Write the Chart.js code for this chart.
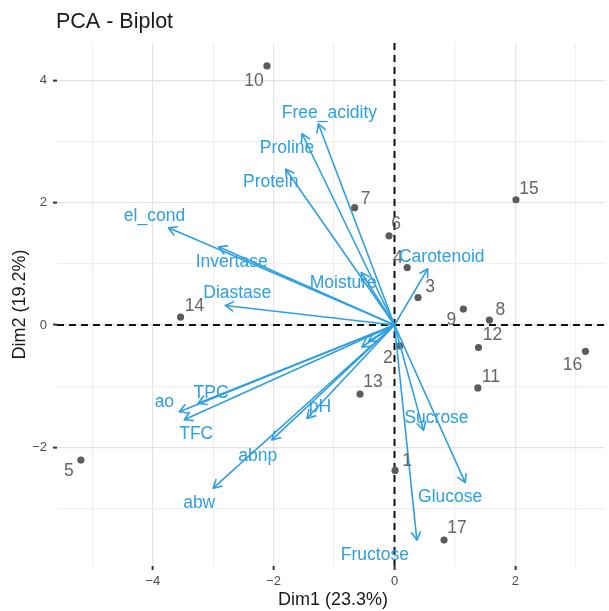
<!DOCTYPE html>
<html>
<head>
<meta charset="utf-8">
<title>PCA - Biplot</title>
<script src="https://cdn.jsdelivr.net/npm/chart.js@4.4.1/dist/chart.umd.min.js"></script>
<style>
  html, body { margin: 0; padding: 0; background: #ffffff; }
  #wrap { position: relative; width: 609px; height: 611px; }
</style>
</head>
<body>
<div id="wrap"><canvas id="biplot" width="609" height="611"></canvas></div>
<script>
// Individuals (scores on Dim1 / Dim2)
const indNames = ['1','2','3','4','5','6','7','8','9','10','11','12','13','14','15','16','17'];
const indDim1 = [0.01, 0.09, 0.39, 0.21, -5.19, -0.09, -0.66, 1.57, 1.14, -2.11, 1.38, 1.39, -0.57, -3.54, 2.01, 3.16, 0.82];
const indDim2 = [-2.38, -0.34, 0.45, 0.94, -2.21, 1.46, 1.92, 0.08, 0.26, 4.24, -1.03, -0.37, -1.13, 0.13, 2.05, -0.43, -3.52];

// Variables (loadings, scaled onto the score axes)
const varNames = ['el_cond', 'Invertase', 'Diastase', 'Free_acidity', 'Proline', 'Protein', 'Moisture', 'Carotenoid',
                  'ao', 'TPC', 'TFC', 'pH', 'abnp', 'abw', 'Sucrose', 'Glucose', 'Fructose', '', ''];
const varDim1 = [-3.74, -2.91, -2.80, -1.26, -1.53, -1.80, -0.55, 0.55, -3.56, -3.25, -3.48, -1.45, -2.03, -3.00, 0.48, 1.17, 0.37, -0.54, -0.43];
const varDim2 = [1.59, 1.28, 0.32, 3.29, 3.13, 2.55, 0.86, 0.92, -1.42, -1.28, -1.55, -1.53, -1.88, -2.67, -1.72, -2.58, -3.52, -0.36, -0.27];

// Axis ticks
const xTickLabels = [-4, -2, 0, 2];
const yTickLabels = [-2, 0, 2, 4];

// Text placement relative to each mark (pixels)
const indLabelOffsets = [[12,-9],[-12,12],[12,-10],[-9,-9],[-12,11],[7,-12],[11,-9],[11,-10],[-12,11],[-13,15],
                         [13,-11],[14,-12],[13,-12],[14,-11],[13,-11],[-13,14],[13,-12]];
const varLabelOffsets = [[-14,-12],[13,15],[12,-12],[11,-11],[-15,14],[-15,13],[-18,11],[14,-12],
                         [-15,-10],[13,-10],[12,14],[13,-11],[-14,16],[-14,15],[13,-12],[-15,15],[-42,15],[0,0],[0,0]];

const FONT = "'Liberation Sans', Arial, Helvetica, sans-serif";
const VAR_COLOR = '#2E9FDF';
const IND_COLOR = '#5c5c5c';
const IND_TEXT = '#666666';

const isMajor = v => Math.abs(v % 2) < 1e-9;

const datasets = [];
datasets.push({
  label: 'individuals',
  type: 'scatter',
  data: indDim1.map((x, i) => ({ x, y: indDim2[i] })),
  pointRadius: 3.6,
  pointHoverRadius: 3.6,
  backgroundColor: IND_COLOR,
  borderWidth: 0,
  order: 2
});
varDim1.forEach((x, i) => {
  datasets.push({
    label: varNames[i],
    type: 'line',
    data: [{ x: 0, y: 0 }, { x, y: varDim2[i] }],
    borderColor: VAR_COLOR,
    borderWidth: 1.6,
    pointRadius: 0,
    fill: false,
    tension: 0,
    order: 1
  });
});

const overlay = {
  id: 'biplotOverlay',
  beforeDatasetsDraw(chart) {
    const { ctx, chartArea: a, scales: { x, y } } = chart;
    const x0 = x.getPixelForValue(0), y0 = y.getPixelForValue(0);
    ctx.save();
    ctx.strokeStyle = '#111111';
    ctx.lineWidth = 2;
    ctx.setLineDash([7, 5]);
    ctx.beginPath();
    ctx.moveTo(a.left, y0); ctx.lineTo(chart.width, y0);
    ctx.moveTo(x0, a.top); ctx.lineTo(x0, a.bottom);
    ctx.stroke();
    ctx.restore();
  },
  afterDatasetsDraw(chart) {
    const { ctx, scales: { x, y } } = chart;
    const ox = x.getPixelForValue(0), oy = y.getPixelForValue(0);
    ctx.save();
    // arrow heads
    ctx.strokeStyle = VAR_COLOR;
    ctx.lineWidth = 1.6;
    ctx.lineCap = 'round';
    ctx.lineJoin = 'round';
    const L = 9, half = Math.PI / 6;
    varDim1.forEach((vx, i) => {
      const tx = x.getPixelForValue(vx), ty = y.getPixelForValue(varDim2[i]);
      const ang = Math.atan2(ty - oy, tx - ox);
      ctx.beginPath();
      ctx.moveTo(tx + L * Math.cos(ang + Math.PI - half), ty + L * Math.sin(ang + Math.PI - half));
      ctx.lineTo(tx, ty);
      ctx.lineTo(tx + L * Math.cos(ang + Math.PI + half), ty + L * Math.sin(ang + Math.PI + half));
      ctx.stroke();
    });
    // text
    ctx.textAlign = 'center';
    ctx.textBaseline = 'middle';
    ctx.font = '17.5px ' + FONT;
    ctx.fillStyle = IND_TEXT;
    indDim1.forEach((vx, i) => {
      const px = x.getPixelForValue(vx), py = y.getPixelForValue(indDim2[i]);
      ctx.fillText(indNames[i], px + indLabelOffsets[i][0], py + indLabelOffsets[i][1]);
    });
    ctx.fillStyle = VAR_COLOR;
    varDim1.forEach((vx, i) => {
      if (!varNames[i]) return;
      const px = x.getPixelForValue(vx), py = y.getPixelForValue(varDim2[i]);
      ctx.fillText(varNames[i], px + varLabelOffsets[i][0], py + varLabelOffsets[i][1]);
    });
    ctx.restore();
  },
  afterDraw(chart) {
    const { ctx, chartArea: a } = chart;
    ctx.save();
    ctx.fillStyle = '#1a1a1a';
    ctx.textBaseline = 'middle';
    ctx.textAlign = 'left';
    ctx.font = '21.5px ' + FONT;
    ctx.fillText('PCA - Biplot', 56, 22);
    ctx.textAlign = 'center';
    ctx.font = '18px ' + FONT;
    ctx.fillText('Dim1 (23.3%)', 333, 600);
    ctx.translate(20, (a.top + a.bottom) / 2);
    ctx.rotate(-Math.PI / 2);
    ctx.fillText('Dim2 (19.2%)', 0, 0);
    ctx.restore();
  }
};

new Chart(document.getElementById('biplot'), {
  type: 'scatter',
  data: { datasets },
  options: {
    responsive: false,
    animation: false,
    events: [],
    layout: { padding: { top: 43, right: 0, bottom: 0, left: 0 } },
    plugins: { legend: { display: false }, tooltip: { enabled: false }, title: { display: false } },
    scales: {
      x: {
        type: 'linear',
        min: -5.585,
        max: 3.49,
        afterFit: s => { s.height = 45; s.paddingLeft = 0; s.paddingRight = 0; },
        border: { display: false },
        grid: {
          color: c => isMajor(c.tick.value) ? '#e4e4e4' : '#efefef',
          lineWidth: 1.2,
          tickLength: 4,
          tickWidth: 2,
          tickColor: c => isMajor(c.tick.value) ? '#333333' : 'rgba(0,0,0,0)'
        },
        ticks: {
          stepSize: 1,
          includeBounds: false,
          autoSkip: false,
          maxRotation: 0,
          padding: 4,
          color: '#4d4d4d',
          font: { family: FONT, size: 13 },
          callback: v => xTickLabels.includes(v) ? String(v).replace('-', '\u2212') : ''
        }
      },
      y: {
        type: 'linear',
        min: -3.944,
        max: 4.615,
        afterFit: s => { s.width = 57; s.paddingTop = 0; s.paddingBottom = 0; },
        border: { display: false },
        grid: {
          color: c => isMajor(c.tick.value) ? '#e4e4e4' : '#efefef',
          lineWidth: 1.2,
          tickLength: 4,
          tickWidth: 2,
          tickColor: c => isMajor(c.tick.value) ? '#333333' : 'rgba(0,0,0,0)'
        },
        ticks: {
          stepSize: 1,
          includeBounds: false,
          autoSkip: false,
          padding: 6,
          color: '#4d4d4d',
          font: { family: FONT, size: 13 },
          callback: v => yTickLabels.includes(v) ? String(v).replace('-', '\u2212') : ''
        }
      }
    }
  },
  plugins: [overlay]
});
</script>
</body>
</html>
